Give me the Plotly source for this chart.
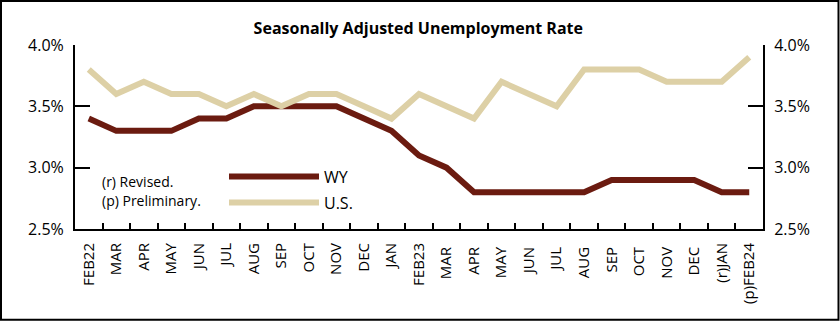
import plotly.graph_objects as go

months = ["FEB22", "MAR", "APR", "MAY", "JUN", "JUL", "AUG", "SEP", "OCT", "NOV", "DEC", "JAN",
          "FEB23", "MAR ", "APR ", "MAY ", "JUN ", "JUL ", "AUG ", "SEP ", "OCT ", "NOV ", "DEC ",
          "(r)JAN", "(p)FEB24"]
wy = [3.4, 3.3, 3.3, 3.3, 3.4, 3.4, 3.5, 3.5, 3.5, 3.5, 3.4, 3.3,
      3.1, 3.0, 2.8, 2.8, 2.8, 2.8, 2.8, 2.9, 2.9, 2.9, 2.9, 2.8, 2.8]
us = [3.8, 3.6, 3.7, 3.6, 3.6, 3.5, 3.6, 3.5, 3.6, 3.6, 3.5, 3.4,
      3.6, 3.5, 3.4, 3.7, 3.6, 3.5, 3.8, 3.8, 3.8, 3.7, 3.7, 3.7, 3.9]
y_ticks = [2.5, 3.0, 3.5, 4.0]
y_labels = ["2.5%", "3.0%", "3.5%", "4.0%"]

W, H = 840, 322
L, R, T, B = 75, 77, 45, 92.5
pw, ph = W - L - R, H - T - B

FONT = "Open Sans"
WY_COLOR = "#6B1B10"
US_COLOR = "#DDD0A6"

fig = go.Figure()
fig.add_trace(go.Scatter(x=months, y=wy, mode="lines", name="WY",
                         line=dict(color=WY_COLOR, width=6), legend="legend"))
fig.add_trace(go.Scatter(x=months, y=us, mode="lines", name="U.S.", yaxis="y2",
                         line=dict(color=US_COLOR, width=6), legend="legend2"))

yax = dict(range=[2.5, 4.0], tickvals=y_ticks, ticktext=y_labels, ticks="inside", ticklen=15,
           tickwidth=2, tickcolor="black", showline=True, linecolor="black", linewidth=2,
           showgrid=False, zeroline=False, ticklabelstandoff=6,
           tickfont=dict(family=FONT, size=16, color="black"))

fig.update_layout(
    width=W, height=H,
    margin=dict(l=L, r=R, t=T, b=B),
    paper_bgcolor="white", plot_bgcolor="white",
    title=dict(text="<b>Seasonally Adjusted Unemployment Rate</b>", x=0.498, xanchor="center",
               y=1 - 28 / H, yanchor="middle", font=dict(family=FONT, size=16, color="black")),
    xaxis=dict(type="category", tickson="boundaries", ticks="inside", ticklen=6, tickwidth=1.5,
               tickcolor="black", showline=True, linecolor="black", linewidth=2, showgrid=False,
               tickangle=-90, ticklabelstandoff=6,
               tickfont=dict(family=FONT, size=15, color="black"),
               range=[-0.5, len(months) - 0.5]),
    yaxis=yax,
    yaxis2=dict(yax, overlaying="y", side="right"),
    legend=dict(x=(224 - L) / pw, y=1 - (177 - T) / ph, xanchor="left", yanchor="middle",
                bgcolor="rgba(0,0,0,0)", itemwidth=90,
                font=dict(family=FONT, size=16, color="black")),
    legend2=dict(x=(224 - L) / pw, y=1 - (203 - T) / ph, xanchor="left", yanchor="middle",
                 bgcolor="rgba(0,0,0,0)", itemwidth=90,
                 font=dict(family=FONT, size=16, color="black")),
    showlegend=True,
)

fig.add_annotation(text="(r) Revised.", xref="paper", yref="paper", x=(100 - L) / pw,
                   y=1 - (182 - T) / ph, xanchor="left", yanchor="middle", showarrow=False,
                   font=dict(family=FONT, size=14, color="black"))
fig.add_annotation(text="(p) Preliminary.", xref="paper", yref="paper", x=(100 - L) / pw,
                   y=1 - (201 - T) / ph, xanchor="left", yanchor="middle", showarrow=False,
                   font=dict(family=FONT, size=14, color="black"))

# outer border
fig.add_shape(type="rect", xref="paper", yref="paper",
              x0=-(L - 1) / pw, x1=(W - L - 1.5) / pw,
              y0=-(B - 1.5) / ph, y1=1 + (T - 1) / ph,
              line=dict(color="black", width=2), fillcolor="rgba(0,0,0,0)")

fig.write_html("out.html")
